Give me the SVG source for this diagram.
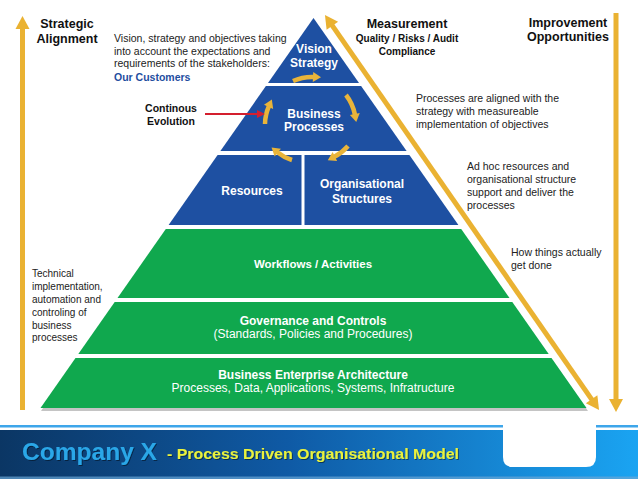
<svg xmlns="http://www.w3.org/2000/svg" width="638" height="479" viewBox="0 0 638 479">
<defs>
  <linearGradient id="band" x1="0" y1="0" x2="1" y2="0">
    <stop offset="0" stop-color="#0b3664"/>
    <stop offset="0.45" stop-color="#0f5aa5"/>
    <stop offset="1" stop-color="#1aa4f2"/>
  </linearGradient>
  <marker id="ya" markerUnits="userSpaceOnUse" markerWidth="14" markerHeight="14" refX="1" refY="7" orient="auto-start-reverse" overflow="visible">
    <path d="M0,0 L13,7 L0,14 Z" fill="#eab232"/>
  </marker>
  <marker id="ca" markerUnits="userSpaceOnUse" markerWidth="10" markerHeight="10" refX="1" refY="5" orient="auto" overflow="visible">
    <path d="M0,0 L8,5 L0,10 Z" fill="#e9b43a"/>
  </marker>
  <marker id="ra" markerUnits="userSpaceOnUse" markerWidth="9" markerHeight="8" refX="1" refY="4" orient="auto" overflow="visible">
    <path d="M0,0 L8,4 L0,8 Z" fill="#d41f2e"/>
  </marker>
  <filter id="ts" x="-5%" y="-20%" width="110%" height="140%">
    <feDropShadow dx="1" dy="1" stdDeviation="0.6" flood-color="#000" flood-opacity="0.45"/>
  </filter>
</defs>
<style>
  text { font-family: "Liberation Sans", Arial, sans-serif; }
  .blue { fill: #1e50a2; }
  .green { fill: #10a84e; }
  .wt { fill: #ffffff; font-weight: bold; font-size: 12px; text-anchor: middle; }
  .wn { fill: #ffffff; font-size: 12px; text-anchor: middle; }
  .hd { fill: #111111; font-weight: bold; font-size: 12.5px; text-anchor: middle; }
  .sb { fill: #111111; font-weight: bold; font-size: 10px; text-anchor: middle; }
  .ds { fill: #222222; font-size: 10.5px; }
  .tk { fill: #222222; font-size: 10px; }
  .yl { fill: none; stroke: #eab232; stroke-width: 5; }
  .cy { fill: none; stroke: #e9b43a; stroke-width: 4.5; }
</style>
<rect x="0" y="0" width="638" height="479" fill="#ffffff"/>

<g id="pyramid-shadow">
  <polygon points="76.5,360 552.5,360 588,411 41,411" fill="#c4c4c4"/>
</g>

<g id="tier-vision">
  <polygon class="blue" points="313.5,18 359,83 268,83"/>
  <text class="wt" x="314" y="53">Vision</text>
  <text class="wt" x="314" y="67">Strategy</text>
</g>
<g id="tier-business-processes">
  <polygon class="blue" points="265.9,86 361.1,86 406.6,151 220.4,151"/>
  <text class="wt" x="314" y="118">Business</text>
  <text class="wt" x="314" y="131">Processes</text>
</g>
<g id="tier-resources">
  <polygon class="blue" points="217.6,155 301.5,155 301.5,225 168.6,225"/>
  <text class="wt" x="252" y="195">Resources</text>
</g>
<g id="tier-organisational-structures">
  <polygon class="blue" points="304.5,155 409.4,155 458.4,225 304.5,225"/>
  <text class="wt" x="362" y="188">Organisational</text>
  <text class="wt" x="362" y="203">Structures</text>
</g>
<g id="tier-workflows">
  <polygon class="green" points="165.8,229 461.2,229 509.5,298 117.5,298"/>
  <text class="wt" x="313" y="268" style="font-size:11.5px">Workflows / Activities</text>
</g>
<g id="tier-governance">
  <polygon class="green" points="114.7,302 512.3,302 548.7,354 78.3,354"/>
  <text class="wt" x="313" y="325">Governance and Controls</text>
  <text class="wn" x="313" y="338">(Standards, Policies and Procedures)</text>
</g>
<g id="tier-architecture">
  <polygon class="green" points="75.5,358 551.5,358 586.5,408 40.5,408"/>
  <text class="wt" x="313" y="379">Business Enterprise Architecture</text>
  <text class="wn" x="313" y="392">Processes, Data, Applications, Systems, Infratructure</text>
</g>

<g id="connectors">
  <line class="yl" x1="22.5" y1="410" x2="22.5" y2="28" marker-end="url(#ya)"/>
  <line class="yl" x1="616" y1="13" x2="616" y2="400" marker-end="url(#ya)"/>
  <line class="yl" x1="331.8" y1="24.9" x2="592.2" y2="400.1" marker-start="url(#ya)" marker-end="url(#ya)"/>
  <path class="cy" d="M293,81 A46,46 0 0,1 314,77" marker-end="url(#ca)"/>
  <path class="cy" d="M346,95 A46,46 0 0,1 355,115" marker-end="url(#ca)"/>
  <path class="cy" d="M348,146 A46,46 0 0,1 334,157" marker-end="url(#ca)"/>
  <path class="cy" d="M292,160 A46,46 0 0,1 277,152" marker-end="url(#ca)"/>
  <path class="cy" d="M265,124 A46,46 0 0,1 269,106" marker-end="url(#ca)"/>
  <line x1="205" y1="114" x2="258" y2="114" stroke="#d41f2e" stroke-width="2" marker-end="url(#ra)"/>
</g>

<g id="label-strategic-alignment">
  <text class="hd" x="67" y="28">Strategic</text>
  <text class="hd" x="67" y="43">Alignment</text>
</g>
<g id="label-vision-desc">
  <text class="ds" x="114" y="42">Vision, strategy and objectives taking</text>
  <text class="ds" x="114" y="55">into account the expectations and</text>
  <text class="ds" x="114" y="67">requirements of the stakeholders:</text>
  <text class="ds" x="114" y="81" style="font-weight:bold;fill:#1f4e9f">Our Customers</text>
</g>
<g id="label-continous-evolution">
  <text class="sb" x="171" y="112" style="font-size:10.5px">Continous</text>
  <text class="sb" x="171" y="125" style="font-size:10.5px">Evolution</text>
</g>
<g id="label-measurement">
  <text class="hd" x="407" y="28">Measurement</text>
  <text class="sb" x="407" y="42">Quality / Risks / Audit</text>
  <text class="sb" x="407" y="55">Compliance</text>
</g>
<g id="label-improvement">
  <text class="hd" x="568" y="27">Improvement</text>
  <text class="hd" x="568" y="41">Opportunities</text>
</g>
<g id="label-processes-aligned">
  <text class="ds" x="416" y="102">Processes are aligned with the</text>
  <text class="ds" x="416" y="115">strategy with measureable</text>
  <text class="ds" x="416" y="128">implementation of objectives</text>
</g>
<g id="label-ad-hoc">
  <text class="ds" x="467" y="170">Ad hoc resources and</text>
  <text class="ds" x="467" y="183">organisational structure</text>
  <text class="ds" x="467" y="196">support and deliver the</text>
  <text class="ds" x="467" y="209">processes</text>
</g>
<g id="label-how-things">
  <text class="ds" x="511" y="256">How things actually</text>
  <text class="ds" x="511" y="269">get done</text>
</g>
<g id="label-technical">
  <text class="tk" x="32" y="277">Technical</text>
  <text class="tk" x="32" y="290">implementation,</text>
  <text class="tk" x="32" y="303">automation and</text>
  <text class="tk" x="32" y="316">controling of</text>
  <text class="tk" x="32" y="329">business</text>
  <text class="tk" x="32" y="341">processes</text>
</g>

<g id="banner">
  <rect x="0" y="425" width="638" height="2.5" fill="#3ea6ea"/>
  <rect x="0" y="430" width="638" height="49" fill="url(#band)"/>
  <rect x="0" y="476.5" width="638" height="2.5" fill="#6aa6d6" opacity="0.7"/>
  <path d="M503,420 V457 Q503,467 513,467 H586 Q596,467 596,457 V420 Z" fill="#ffffff"/>
  <text x="22" y="460" font-size="23" font-weight="bold" fill="#2aa7e8" textLength="135" lengthAdjust="spacingAndGlyphs" filter="url(#ts)">Company X</text>
  <text x="167" y="459" font-size="15" font-weight="bold" fill="#eaf23c" textLength="292" lengthAdjust="spacingAndGlyphs" filter="url(#ts)">- Process Driven Organisational Model</text>
</g>
</svg>
